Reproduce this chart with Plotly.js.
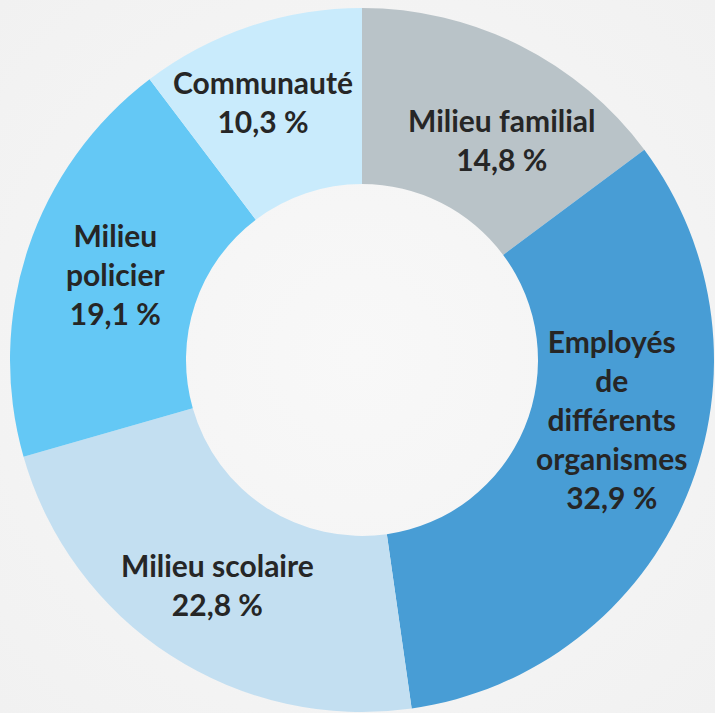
<!DOCTYPE html>
<html>
<head>
<meta charset="utf-8">
<script src="https://cdn.plot.ly/plotly-3.0.1.min.js"></script>
<style>
html,body{margin:0;padding:0;background:#f2f2f2;}
#chart{width:715px;height:713px;background:radial-gradient(circle at 50% 50%, #f8f8f8 0%, #f5f5f5 45%, #f1f1f1 100%);}
</style>
</head>
<body>
<div id="chart"></div>
<script>
const categories = ["Milieu familial", "Employés de différents organismes", "Milieu scolaire", "Milieu policier", "Communauté"];
const labelLines = ["Milieu familial", "Employés<br>de<br>différents<br>organismes", "Milieu scolaire", "Milieu<br>policier", "Communauté"];
const values = [14.8, 32.9, 22.8, 19.1, 10.3];
const colors = ["#b9c3c8", "#489dd5", "#c3dff1", "#64c8f5", "#c9ebfc"];

const W = 715, H = 713;
const cx = 362, cy = 360, R = 352; // pixel geometry of donut
const hole = 0.5;
const domX = [(cx - R) / W, (cx + R) / W];
const domY = [(H - cy - R) / H, (H - cy + R) / H];

// manual label nudges (pixels, right / down) as placed in the original design
const labelNudge = [[22, 15], [6, -43], [-1, 3], [4, -2], [-15, -8]];

const fmt = v => v.toFixed(1).replace('.', ',') + ' %';

const total = values.reduce((a, b) => a + b, 0);
const annotations = [];
let cum = 0;
const rMid = R * (1 + hole) / 2;
values.forEach((v, i) => {
  const mid = (cum + v / 2) / total * 2 * Math.PI;
  cum += v;
  const px = cx + rMid * Math.sin(mid);
  const py = cy - rMid * Math.cos(mid);
  annotations.push({
    x: px / W, y: 1 - py / H, xref: 'paper', yref: 'paper',
    xanchor: 'center', yanchor: 'middle', showarrow: false,
    xshift: labelNudge[i][0], yshift: -labelNudge[i][1],
    text: '<b>' + labelLines[i] + '<br>' + fmt(v) + '</b>',
    font: {family: 'Lato, "Liberation Sans", sans-serif', size: 30, color: '#262626'},
    align: 'center'
  });
});

const data = [{
  type: 'pie',
  labels: categories,
  values: values,
  hole: hole,
  sort: false,
  direction: 'clockwise',
  rotation: 0,
  marker: {colors: colors, line: {width: 0}},
  textinfo: 'none',
  hoverinfo: 'label+percent',
  domain: {x: domX, y: domY},
  showlegend: false
}];

const layout = {
  width: W, height: H,
  margin: {l: 0, r: 0, t: 0, b: 0},
  paper_bgcolor: 'rgba(0,0,0,0)',
  plot_bgcolor: 'rgba(0,0,0,0)',
  showlegend: false,
  annotations: annotations
};

Plotly.newPlot('chart', data, layout, {displayModeBar: false, staticPlot: true});
</script>
</body>
</html>
